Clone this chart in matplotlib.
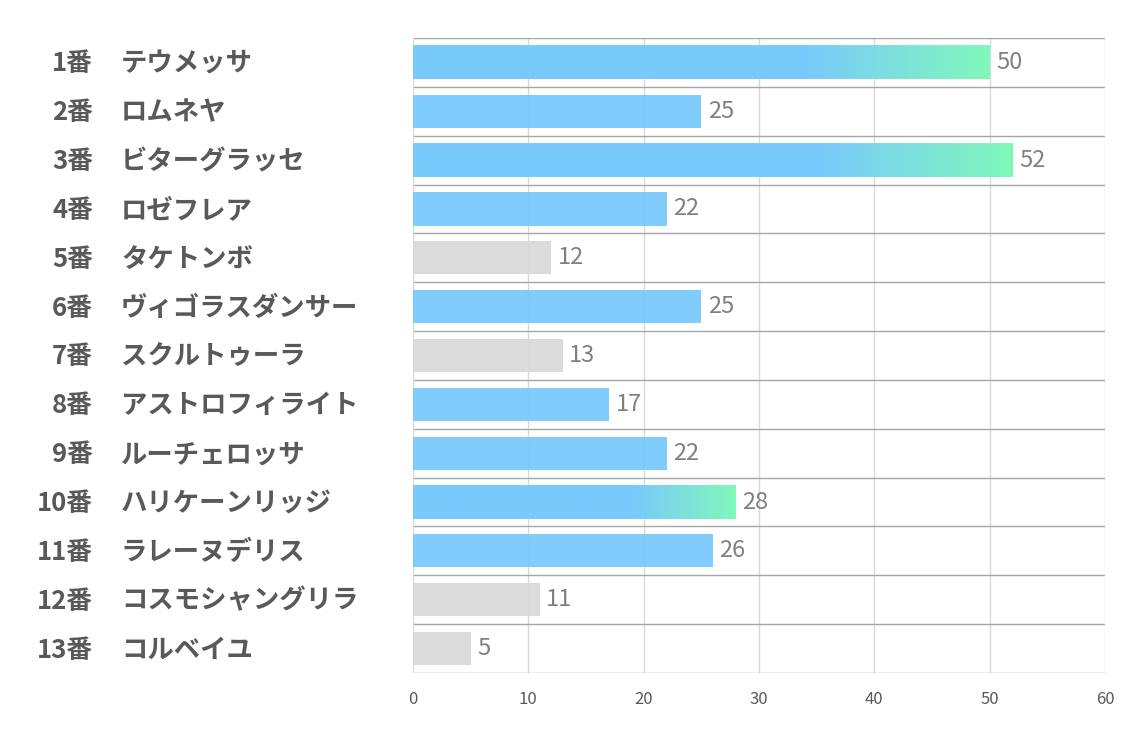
import numpy as np
import matplotlib
matplotlib.use('Agg')
from matplotlib import pyplot as plt
from matplotlib.colors import LinearSegmentedColormap
from matplotlib.transforms import blended_transform_factory

plt.rcParams['font.family'] = ['Noto Sans CJK JP', 'DejaVu Sans']

numeros = ['1番', '2番', '3番', '4番', '5番', '6番', '7番', '8番', '9番', '10番', '11番', '12番', '13番']
nombres = ['テウメッサ', 'ロムネヤ', 'ビターグラッセ', 'ロゼフレア', 'タケトンボ', 'ヴィゴラスダンサー',
           'スクルトゥーラ', 'アストロフィライト', 'ルーチェロッサ', 'ハリケーンリッジ',
           'ラレーヌデリス', 'コスモシャングリラ', 'コルベイユ']
valores = [50, 25, 52, 22, 12, 25, 13, 17, 22, 28, 26, 11, 5]
tipo = ['g', 'b', 'g', 'b', 'x', 'b', 'x', 'b', 'b', 'g', 'b', 'x', 'x']   # g: gradiente, b: azul, x: gris

azul = '#79cafc'
verde = '#80fbb8'
gris = '#d9d9d9'

fig = plt.figure(figsize=(11.34, 7.37), dpi=100)
ax = fig.add_axes([413/1134, 1 - 673/737, 692/1134, 635/737])

y = np.arange(len(valores))
alto = 0.68

colores = [gris if t == 'x' else azul for t in tipo]
ax.barh(y, valores, height=alto, color=colores, zorder=2, alpha=0.95)

# gradiente azul -> verde en el ultimo tramo de la barra
cmap = LinearSegmentedColormap.from_list('grad', [(0, azul), (0.68, azul), (1, verde)])
grad = np.linspace(0, 1, 256).reshape(1, -1)
for i in range(len(valores)):
    if tipo[i] == 'g':
        ax.imshow(grad, cmap=cmap, aspect='auto', zorder=3, alpha=0.95,
                  extent=(0, valores[i], i + alto/2, i - alto/2))

for i in range(len(valores)):
    ax.text(valores[i] + 0.55, i, str(valores[i]), va='center', ha='left',
            fontsize=17, color='#808080', zorder=4)

ax.set_xlim(0, 60)
ax.set_ylim(len(valores) - 0.5, -0.5)

for v in range(10, 61, 10):
    ax.axvline(v, color='#d9d9d9', lw=1, zorder=1)
for k in range(len(valores) + 1):
    ax.axhline(k - 0.5, color='#a6a6a6', lw=1, zorder=1)

for s in ax.spines.values():
    s.set_visible(False)
ax.axvline(0, color='#d9d9d9', lw=1, zorder=1)

ax.set_xticks(range(0, 61, 10))
ax.set_yticks([])
ax.tick_params(axis='x', length=0, pad=13, labelsize=12, labelcolor='#595959')

trans = blended_transform_factory(fig.transFigure, ax.transData)
for i in range(len(valores)):
    ax.text(93/1134, i + 0.03, numeros[i], transform=trans, ha='right', va='center',
            fontsize=18.5, fontweight='bold', color='#595959')
    ax.text(121/1134, i + 0.03, nombres[i], transform=trans, ha='left', va='center',
            fontsize=19, fontweight='bold', color='#595959')

fig.savefig('out.png', dpi=100)
